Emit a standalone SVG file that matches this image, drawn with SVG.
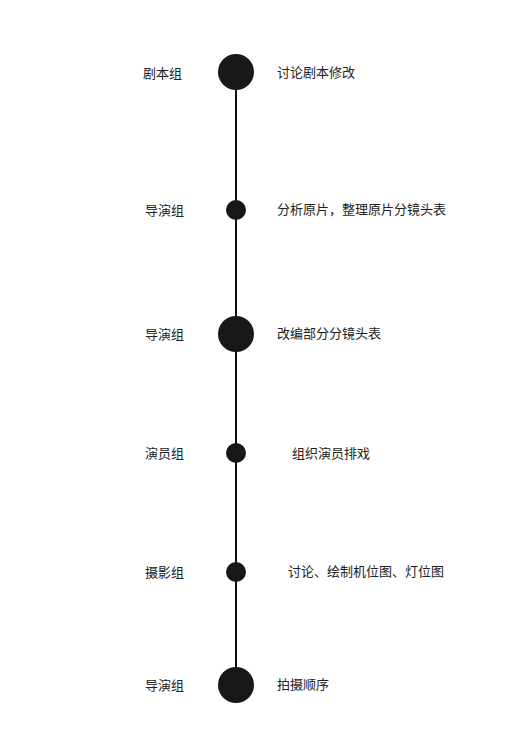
<svg xmlns="http://www.w3.org/2000/svg" width="528" height="740" viewBox="0 0 528 740">
<style>
text{font-family:"Noto Sans CJK SC","Liberation Sans",sans-serif;font-size:13px;fill:#222}
.big{fill:#181818}
.small{fill:#181818}
</style>
<rect width="528" height="740" fill="#ffffff"/>
<g id="connectors">
<line x1="236" y1="72" x2="236" y2="685" stroke="#111" stroke-width="2"/>
</g>
<g id="n1"><circle class="big" cx="236" cy="72" r="18"/><text x="143" y="78">剧本组</text><text x="277" y="77">讨论剧本修改</text></g>
<g id="n2"><circle class="small" cx="236" cy="210" r="10"/><text x="145" y="215">导演组</text><text x="277" y="214">分析原片，整理原片分镜头表</text></g>
<g id="n3"><circle class="big" cx="236" cy="334" r="18"/><text x="145" y="339">导演组</text><text x="277" y="338">改编部分分镜头表</text></g>
<g id="n4"><circle class="small" cx="236" cy="453" r="10"/><text x="145" y="458">演员组</text><text x="292" y="458">组织演员排戏</text></g>
<g id="n5"><circle class="small" cx="236" cy="572" r="10"/><text x="145" y="577">摄影组</text><text x="288" y="576">讨论、绘制机位图、灯位图</text></g>
<g id="n6"><circle class="big" cx="236" cy="685" r="18"/><text x="145" y="690">导演组</text><text x="277" y="689">拍摄顺序</text></g>
</svg>
